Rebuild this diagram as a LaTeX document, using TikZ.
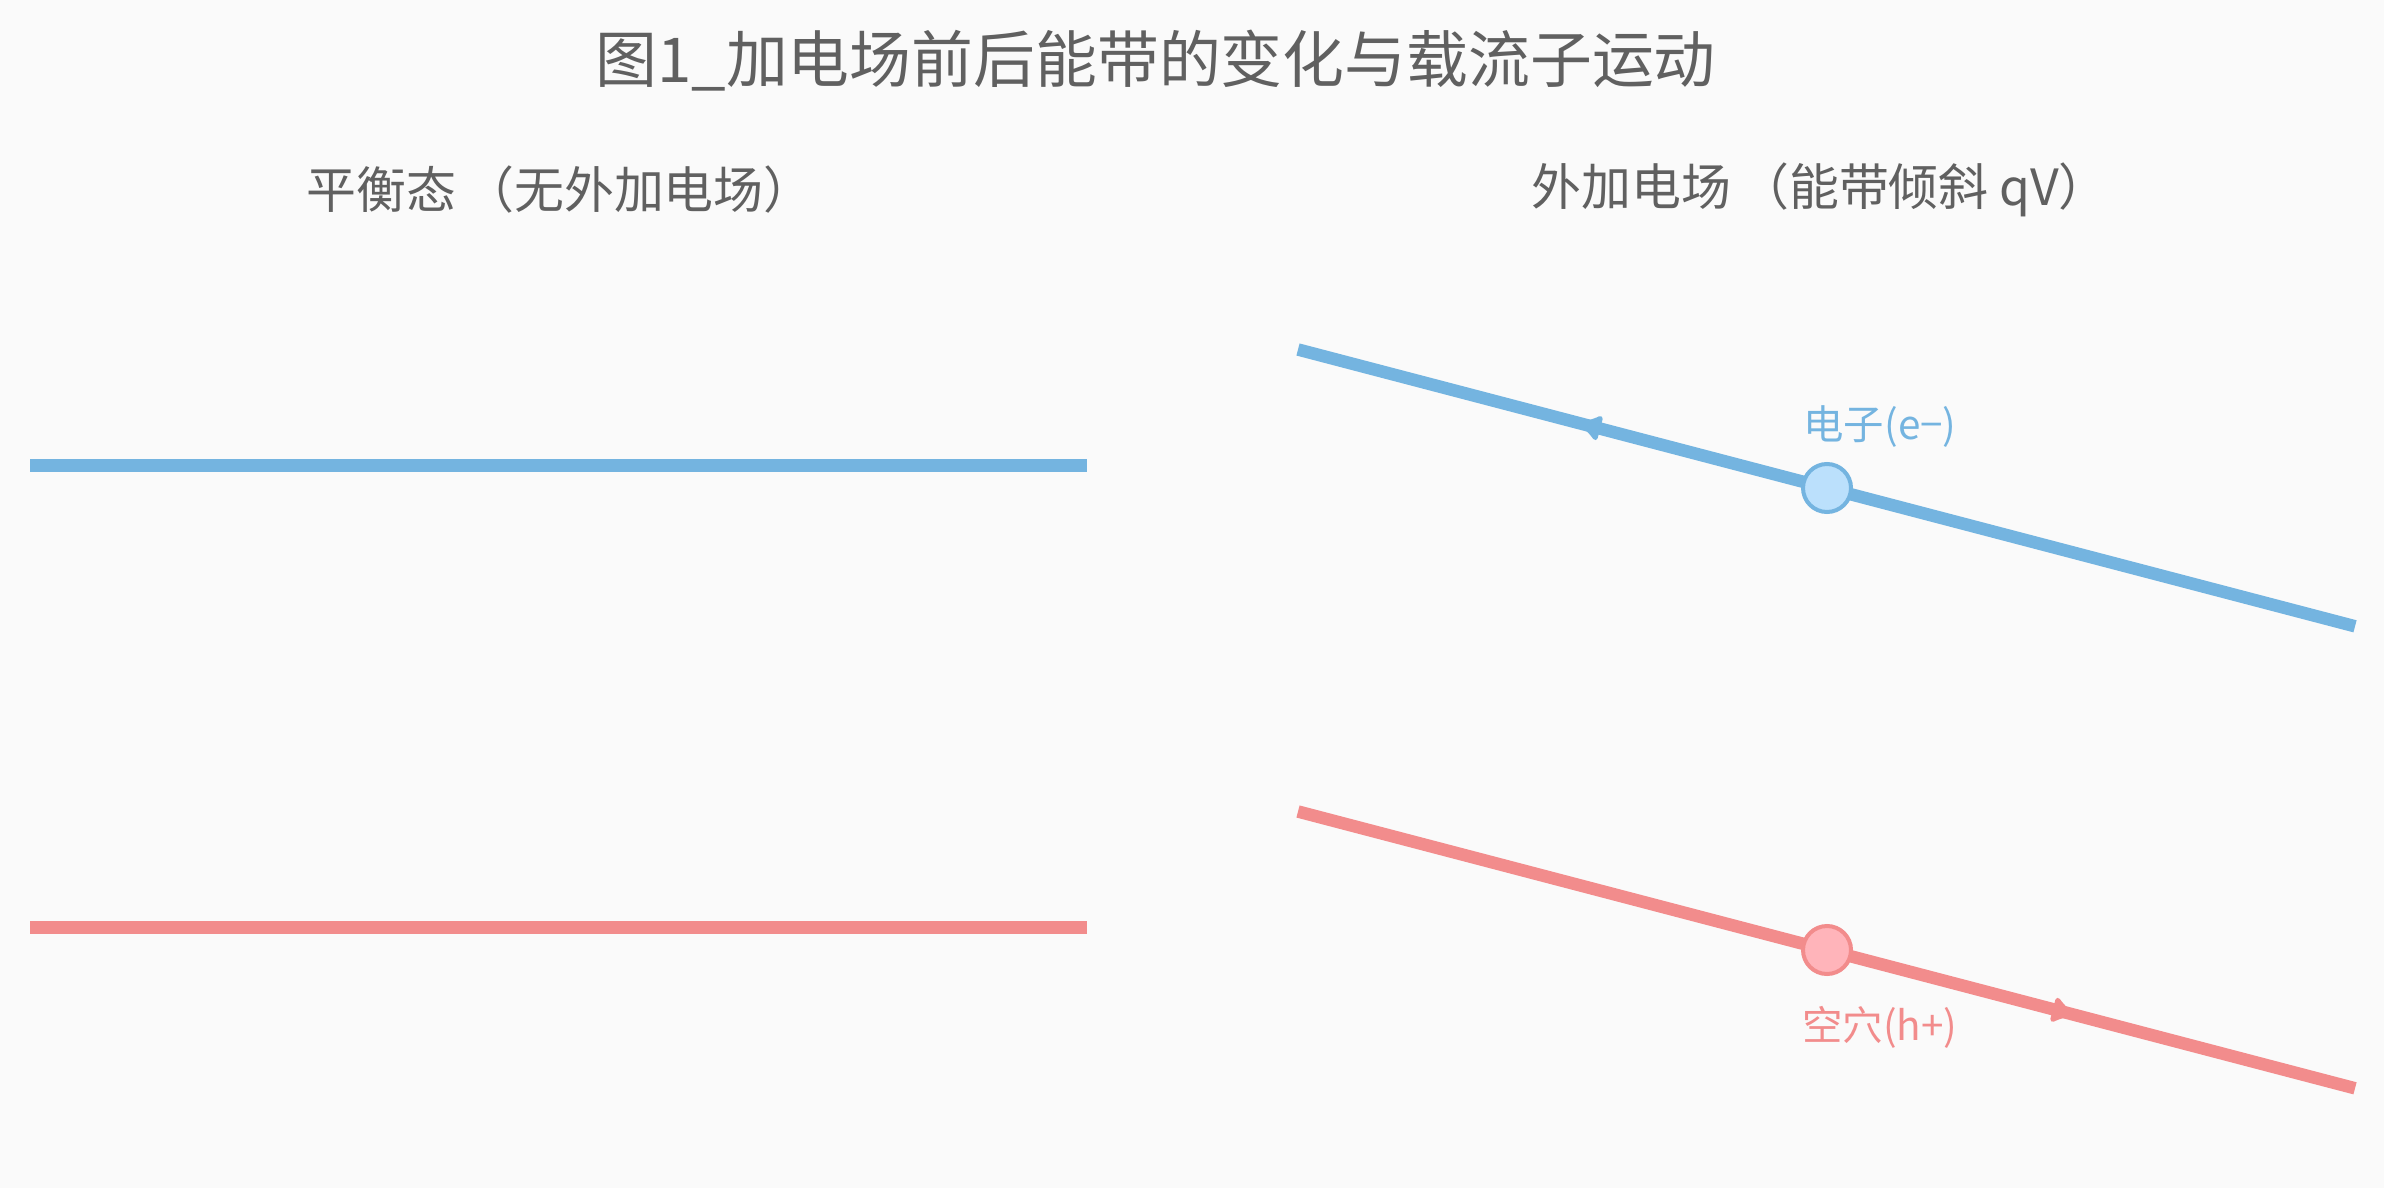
\documentclass[tikz,border=0pt]{standalone}
\usepackage{fontspec}
\setmainfont{Noto Sans CJK SC}
\usetikzlibrary{arrows.meta}
\definecolor{bgcol}{HTML}{FAFAFA}
\definecolor{txtcol}{HTML}{606060}
\definecolor{bandblue}{HTML}{74B4E0}
\definecolor{bandred}{HTML}{F28C8C}
\definecolor{efill}{HTML}{BBE0FC}
\definecolor{hfill}{HTML}{FFB4BA}
\begin{document}
\begin{tikzpicture}[
    titletext/.style={text=txtcol, font=\fontsize{17.6pt}{20pt}\selectfont},
    subtext/.style={text=txtcol, font=\fontsize{14.2pt}{17pt}\selectfont},
    cband/.style={draw=bandblue, line width=3.56pt},
    vband/.style={draw=bandred, line width=3.56pt},
    emove/.style={draw=bandblue, line width=1.4pt, -{Latex[length=7pt,width=9pt,round]}},
    hmove/.style={draw=bandred, line width=1.4pt, -{Latex[length=7pt,width=9pt,round]}},
    electron/.style={circle, draw=bandblue, fill=efill, line width=1.14pt, minimum size=0.48cm, inner sep=0pt},
    hole/.style={circle, draw=bandred, fill=hfill, line width=1.14pt, minimum size=0.48cm, inner sep=0pt},
    elabel/.style={text=bandblue, font=\fontsize{11.5pt}{13pt}\selectfont},
    hlabel/.style={text=bandred, font=\fontsize{11.5pt}{13pt}\selectfont}
  ]
    % 背景
    \fill[bgcol] (0,0) rectangle (23.84,11.88);
    \useasboundingbox (0,0) rectangle (23.84,11.88);

    % タイトル
    \node[titletext] (title) at (11.555,11.275) {图1\_加电场前后能带的变化与载流子运动};
    \node[subtext] (eqtitle) at (5.60,9.98) {平衡态\,（无外加电场）};
    \node[subtext] (fieldtitle) at (18.20,9.98) {外加电场\,（能带倾斜 qV）};

    % 平衡態のバンド
    \coordinate (cbA) at (0.30,7.225);
    \coordinate (cbB) at (10.87,7.225);
    \coordinate (vbA) at (0.30,2.607);
    \coordinate (vbB) at (10.87,2.607);
    \draw[cband] (cbA) -- (cbB);
    \draw[vband] (vbA) -- (vbB);

    % 電場ありのバンド(傾斜)
    \coordinate (cbC) at (12.98,8.385);
    \coordinate (cbD) at (23.55,5.617);
    \coordinate (vbC) at (12.98,3.765);
    \coordinate (vbD) at (23.55,0.997);
    \draw[cband] (cbC) -- (cbD);
    \draw[vband] (vbC) -- (vbD);

    % キャリアの運動
    \coordinate (e) at (18.27,7.000);
    \coordinate (h) at (18.27,2.380);
    \coordinate (etip) at (15.80,7.646);
    \coordinate (htip) at (20.73,1.735);
    \draw[emove] (e) -- (etip); % 電子は左上へ
    \draw[hmove] (h) -- (htip); % 正孔は右下へ

    % 電子と正孔
    \node[electron] (electron) at (e) {};
    \node[elabel] (elab) at (18.80,7.61) {电子(e−)};

    \node[hole] (hole) at (h) {};
    \node[hlabel] (hlab) at (18.80,1.61) {空穴(h+)};
  \end{tikzpicture}
\end{document}
